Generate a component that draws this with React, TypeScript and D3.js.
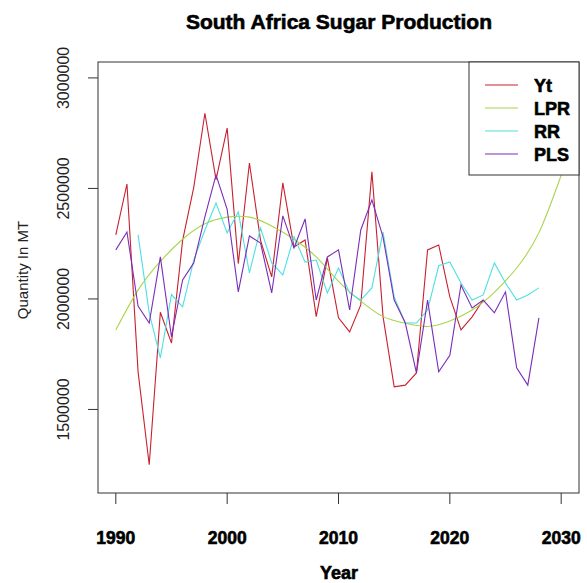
import React from "react";
import * as d3 from "d3";

const W = 587;
const H = 583;

const ytYears = d3.range(1990, 2024);
const ytValues = [2290000, 2520000, 1670000, 1250000, 1940000, 1800000, 2265000, 2505000, 2840000, 2540000, 2773000, 2160000, 2615000, 2265000, 2100000, 2525000, 2235000, 2267000, 1920000, 2185000, 1915000, 1851000, 1973000, 2575000, 1920000, 1602000, 1610000, 1665000, 2222000, 2244000, 2009000, 1860000, 1919000, 1995000];

const lprYears = [1990, 1992, 1994, 1996, 1998, 2000, 2002, 2004, 2006, 2008, 2010, 2012, 2014, 2016, 2018, 2020, 2022, 2024, 2026, 2028, 2030];
const lprValues = [1860000, 2040000, 2170000, 2270000, 2340000, 2370000, 2370000, 2330000, 2270000, 2190000, 2080000, 1990000, 1920000, 1890000, 1875000, 1900000, 1950000, 2030000, 2140000, 2300000, 2560000];

const rrYears = d3.range(1992, 2029);
const rrValues = [2290000, 1937000, 1733000, 2020000, 1964000, 2176000, 2312000, 2434000, 2299000, 2394000, 2118000, 2321000, 2163000, 2109000, 2281000, 2167000, 2176000, 2027000, 2140000, 2027000, 1995000, 2050000, 2303000, 2009000, 1891000, 1891000, 1950000, 2150000, 2167000, 2072000, 1995000, 2018000, 2163000, 2072000, 1995000, 2018000, 2050000];

const plsYears = d3.range(1990, 2029);
const plsValues = [2222000, 2303000, 1968000, 1891000, 2190000, 1828000, 2086000, 2163000, 2371000, 2561000, 2405000, 2032000, 2285000, 2253000, 2027000, 2376000, 2231000, 2362000, 1995000, 2190000, 2222000, 1950000, 2312000, 2448000, 2280000, 1995000, 1891000, 1665000, 1995000, 1670000, 1745000, 2063000, 1959000, 1995000, 1937000, 2032000, 1688000, 1610000, 1914000];

const xTicks = [1990, 2000, 2010, 2020, 2030];
const yTicks = [1500000, 2000000, 2500000, 3000000];

const seriesNames = ["Yt", "LPR", "RR", "PLS"];
const seriesColors = ["#C8202F", "#A8D64A", "#4EE0E0", "#7B2CB8"];

const plot = { left: 98, right: 579, top: 62, bottom: 493 };

export default function App() {
  const x = d3.scaleLinear().domain([1988.4, 2031.6]).range([plot.left, plot.right]);
  const y = d3.scaleLinear().domain([1122000, 3072000]).range([plot.bottom, plot.top]);

  const line = d3
    .line<[number, number]>()
    .x((d) => x(d[0]))
    .y((d) => y(d[1]));
  const smooth = d3
    .line<[number, number]>()
    .x((d) => x(d[0]))
    .y((d) => y(d[1]))
    .curve(d3.curveNatural);

  const series: { path: string; color: string }[] = [
    { path: line(ytYears.map((yr, i) => [yr, ytValues[i]]))!, color: seriesColors[0] },
    { path: smooth(lprYears.map((yr, i) => [yr, lprValues[i]]))!, color: seriesColors[1] },
    { path: line(rrYears.map((yr, i) => [yr, rrValues[i]]))!, color: seriesColors[2] },
    { path: line(plsYears.map((yr, i) => [yr, plsValues[i]]))!, color: seriesColors[3] },
  ];

  const font = "Liberation Sans, Arial, sans-serif";
  const legend = { left: 469, right: 579, top: 62, bottom: 175 };
  const rowY = [85, 108, 131, 154];
  const heavy = { stroke: "#000", strokeWidth: 0.6 };

  return (
    <svg
      width={W}
      height={H}
      style={{ position: "absolute", left: 0, top: 0, background: "#fff" }}
      fontFamily={font}
    >
      <rect x={0} y={0} width={W} height={H} fill="#fff" />
      <defs>
        <clipPath id="plotclip">
          <rect x={plot.left} y={plot.top} width={plot.right - plot.left} height={plot.bottom - plot.top} />
        </clipPath>
      </defs>
      <text x={339} y={29} textAnchor="middle" fontSize={21} fontWeight="bold" {...heavy}>
        South Africa Sugar Production
      </text>

      <g clipPath="url(#plotclip)">
        {series.map((s, i) => (
          <path key={i} d={s.path} fill="none" stroke={s.color} strokeWidth={1.1} />
        ))}
      </g>

      <rect
        x={plot.left}
        y={plot.top}
        width={plot.right - plot.left}
        height={plot.bottom - plot.top}
        fill="none"
        stroke="#333"
        strokeWidth={1}
      />

      {xTicks.map((t) => (
        <g key={t}>
          <line x1={x(t)} x2={x(t)} y1={plot.bottom} y2={plot.bottom + 11} stroke="#333" />
          <text x={x(t)} y={544} textAnchor="middle" fontSize={17.5} fontWeight="bold" {...heavy}>
            {t}
          </text>
        </g>
      ))}
      {yTicks.map((t) => (
        <g key={t}>
          <line x1={plot.left - 10} x2={plot.left} y1={y(t)} y2={y(t)} stroke="#333" />
          <text
            transform={`translate(${69},${y(t)}) rotate(-90)`}
            textAnchor="middle"
            fontSize={16}
            fill="#222"
          >
            {t}
          </text>
        </g>
      ))}

      <text x={339} y={579} textAnchor="middle" fontSize={18} fontWeight="bold" {...heavy}>
        Year
      </text>
      <text transform={`translate(${28},${270}) rotate(-90)`} textAnchor="middle" fontSize={15} fill="#222">
        Quantity In MT
      </text>

      <rect
        x={legend.left}
        y={legend.top}
        width={legend.right - legend.left}
        height={legend.bottom - legend.top}
        fill="#fff"
        stroke="#333"
      />
      {seriesNames.map((n, i) => (
        <g key={n}>
          <line x1={485} x2={518} y1={rowY[i]} y2={rowY[i]} stroke={seriesColors[i]} strokeWidth={1.1} />
          <text x={534} y={rowY[i] + 6.5} fontSize={18} fontWeight="bold" {...heavy}>
            {n}
          </text>
        </g>
      ))}
    </svg>
  );
}
